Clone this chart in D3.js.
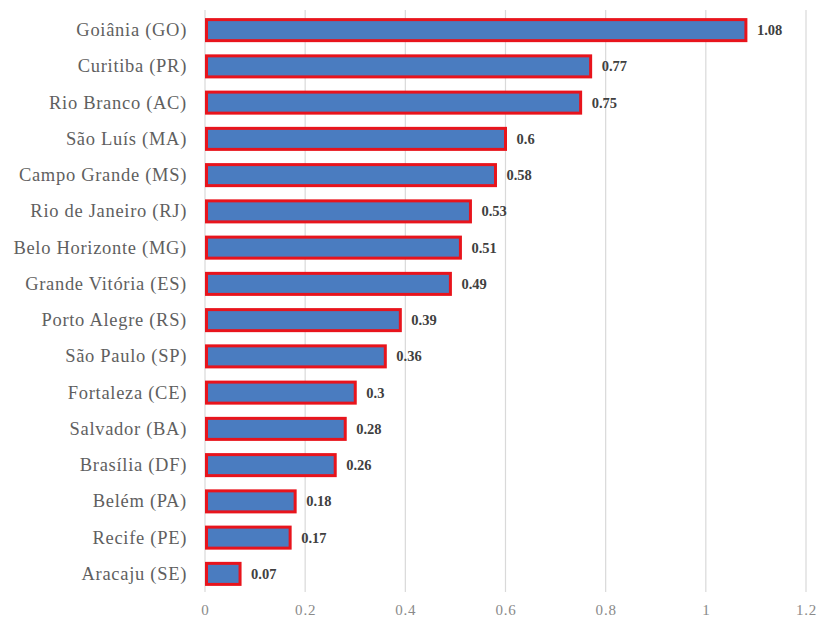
<!DOCTYPE html>
<html>
<head>
<meta charset="utf-8">
<script src="https://cdn.jsdelivr.net/npm/d3@7"></script>
<style>
  html, body { margin: 0; padding: 0; background: #ffffff; }
  svg { display: block; }
  svg text { font-family: "Liberation Serif", "DejaVu Serif", serif; }
</style>
</head>
<body>
<svg id="chart" width="818" height="620"></svg>
<script>
// Metropolitan regions and their values, top to bottom
const cities = [
  "Goiânia (GO)", "Curitiba (PR)", "Rio Branco (AC)", "São Luís (MA)",
  "Campo Grande (MS)", "Rio de Janeiro (RJ)", "Belo Horizonte (MG)",
  "Grande Vitória (ES)", "Porto Alegre (RS)", "São Paulo (SP)",
  "Fortaleza (CE)", "Salvador (BA)", "Brasília (DF)", "Belém (PA)",
  "Recife (PE)", "Aracaju (SE)"
];
const values = [1.08, 0.77, 0.75, 0.6, 0.58, 0.53, 0.51, 0.49, 0.39, 0.36, 0.3, 0.28, 0.26, 0.18, 0.17, 0.07];
const valueLabels = ["1.08", "0.77", "0.75", "0.6", "0.58", "0.53", "0.51", "0.49", "0.39", "0.36", "0.3", "0.28", "0.26", "0.18", "0.17", "0.07"];
const xTicks = [0, 0.2, 0.4, 0.6, 0.8, 1, 1.2];
const xTickLabels = ["0", "0.2", "0.4", "0.6", "0.8", "1", "1.2"];

const svg = d3.select("#chart");
const font = "'Liberation Serif', 'DejaVu Serif', serif";

const x = d3.scaleLinear().domain([0, 1.2]).range([205, 806]);
const y = d3.scaleBand().domain(cities).range([12, 592]).paddingInner(0.42).paddingOuter(0.21);

// vertical gridlines
svg.append("g")
  .selectAll("line")
  .data(xTicks)
  .join("line")
  .attr("x1", d => x(d)).attr("x2", d => x(d))
  .attr("y1", 10).attr("y2", 592)
  .attr("stroke", "#d9d9d9")
  .attr("stroke-width", 1.2);

// x axis tick labels
const xAxis = d3.axisBottom(x)
  .tickValues(xTicks)
  .tickFormat((d, i) => xTickLabels[i])
  .tickSize(0)
  .tickPadding(0);
const gx = svg.append("g").attr("transform", "translate(0,615)").call(xAxis);
gx.attr("font-family", null);
gx.select(".domain").remove();
gx.selectAll("text")
  .style("font-family", font)
  .style("font-size", "15px")
  .style("letter-spacing", "0.8px")
  .attr("fill", "#8a8a8a")
  .attr("dy", null);

// category labels
const yAxis = d3.axisLeft(y).tickSize(0).tickPadding(0);
const gy = svg.append("g").attr("transform", "translate(187,0)").call(yAxis);
gy.attr("font-family", null);
gy.select(".domain").remove();
gy.selectAll("text")
  .style("font-family", font)
  .style("font-size", "18.5px")
  .style("letter-spacing", "0.7px")
  .attr("fill", "#5f5f5f");

// bars
svg.append("g")
  .selectAll("rect")
  .data(cities)
  .join("rect")
  .attr("x", x(0) + 1.5)
  .attr("y", d => y(d))
  .attr("width", (d, i) => x(values[i]) - x(0) - 1.5)
  .attr("height", y.bandwidth())
  .attr("fill", "#4a7cc0")
  .attr("stroke", "#e8141c")
  .attr("stroke-width", 3);

// value labels
svg.append("g")
  .selectAll("text")
  .data(cities)
  .join("text")
  .attr("x", (d, i) => x(values[i]) + 11)
  .attr("y", d => y(d) + y.bandwidth() / 2)
  .attr("dy", "0.35em")
  .style("font-family", font)
  .style("font-size", "14.5px")
  .attr("font-weight", "bold")
  .attr("fill", "#404040")
  .text((d, i) => valueLabels[i]);
</script>
</body>
</html>
